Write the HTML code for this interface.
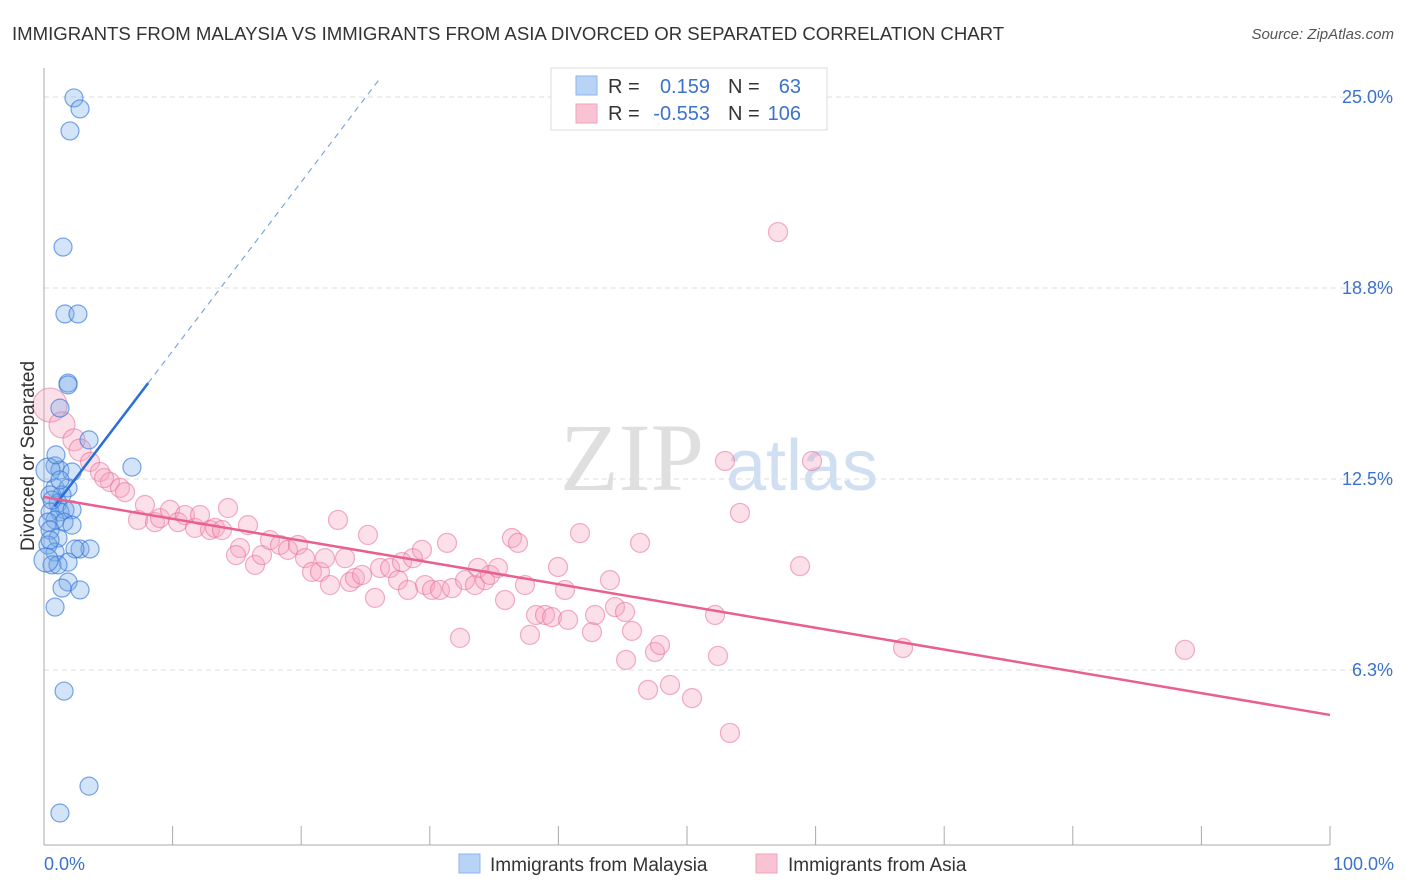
<!DOCTYPE html>
<html><head><meta charset="utf-8"><style>
body{margin:0;background:#fff;font-family:"Liberation Sans",sans-serif}
svg{display:block}
</style></head><body>
<svg id="chart" width="1406" height="892" xmlns="http://www.w3.org/2000/svg">
<text x="12" y="40" font-size="18.6" fill="#333">IMMIGRANTS FROM MALAYSIA VS IMMIGRANTS FROM ASIA DIVORCED OR SEPARATED CORRELATION CHART</text>
<text x="1394" y="39" font-size="15" fill="#555" font-style="italic" text-anchor="end">Source: ZipAtlas.com</text>
<g>
<text x="632" y="490" font-size="96" fill="#d8d8d8" font-family="Liberation Serif,serif" text-anchor="middle" opacity="0.8">ZIP</text>
<text x="802" y="490" font-size="72" fill="#c5d8ef" text-anchor="middle" opacity="0.8">atlas</text>
</g>
<g id="grid"></g>
<g id="axes"></g>
<g id="pts"></g>
<g id="lines"></g>
<text x="34" y="456" font-size="19" fill="#333" text-anchor="middle" transform="rotate(-90 34 456)">Divorced or Separated</text>
<g>
<rect x="551" y="68" width="276" height="62" fill="#fff" stroke="#ddd"/>
<rect x="576" y="76" width="21" height="19" fill="#b7d3f5" stroke="#8fb6e8"/>
<text x="608" y="93" font-size="20" fill="#333">R =</text>
<text x="710" y="93" font-size="20" fill="#3b72cc" text-anchor="end">0.159</text>
<text x="728" y="93" font-size="20" fill="#333">N =</text>
<text x="801" y="93" font-size="20" fill="#3b72cc" text-anchor="end">63</text>
<rect x="576" y="104" width="21" height="19" fill="#f9c3d3" stroke="#efa3bb"/>
<text x="608" y="120" font-size="20" fill="#333">R =</text>
<text x="710" y="120" font-size="20" fill="#3b72cc" text-anchor="end">-0.553</text>
<text x="728" y="120" font-size="20" fill="#333">N =</text>
<text x="801" y="120" font-size="20" fill="#3b72cc" text-anchor="end">106</text>
</g>
<g>
<rect x="459" y="854" width="21" height="19" fill="#b7d3f5" stroke="#8fb6e8"/>
<text x="490" y="871" font-size="19" fill="#333">Immigrants from Malaysia</text>
<rect x="756" y="854" width="21" height="19" fill="#f9c3d3" stroke="#efa3bb"/>
<text x="788" y="871" font-size="19" fill="#333">Immigrants from Asia</text>
</g>
</svg>
<script>
const yTicks=[6.25,12.5,18.75,25];
const yTickLabels=["6.3%","12.5%","18.8%","25.0%"];
const xTicks=[0,10,20,30,40,50,60,70,80,90,100];
const blueX=[2.33,2.8,2.02,1.48,1.63,2.64,1.87,1.87,1.24,3.5,6.84,0.86,1.24,2.18,0.31,0.86,1.87,1.4,0.47,1.09,1.63,0.47,1.24,2.18,0.86,1.56,0.31,2.18,0.47,1.09,0.31,0.86,2.8,3.58,2.41,1.87,0.62,1.09,1.87,1.4,2.8,0.86,1.56,3.5,1.24,0.47,0.16,0.62,1.24,0.93];
const blueY=[24.97,24.61,23.89,20.09,17.9,17.9,15.64,15.58,14.82,13.78,12.89,12.93,12.79,12.73,12.79,12.21,12.21,11.98,11.98,11.71,11.49,11.42,11.42,11.49,11.16,11.09,11.09,10.99,10.83,10.57,10.34,10.11,10.21,10.21,10.21,9.78,9.69,9.69,9.13,8.93,8.87,8.31,5.56,2.45,1.57,10.5,9.85,11.81,12.47,13.29];
const pinkX=[0.47,1.4,2.33,2.8,3.58,4.35,5.13,5.91,4.67,6.3,7.31,7.85,8.63,9.02,9.8,10.42,10.96,11.74,12.13,12.91,13.3,13.84,14.31,15.24,14.93,15.86,16.41,16.95,17.57,18.35,18.97,19.75,20.3,20.84,21.46,22.24,21.85,22.86,23.41,23.79,24.18,24.73,25.19,25.74,26.13,26.91,27.53,27.84,28.3,28.69,29.39,29.63,30.17,30.79,31.34,31.73,32.35,32.74,33.51,33.75,34.29,34.68,35.3,35.85,36.39,36.86,37.4,37.79,38.26,38.96,39.5,39.97,40.51,40.75,41.68,42.61,42.85,44.01,44.4,45.18,45.26,45.72,46.35,46.97,47.51,47.9,48.68,50.39,52.18,52.41,52.95,53.34,54.12,57.08,58.79,59.72,66.8,88.72];
const pinkY=[14.92,14.27,13.78,13.45,13.06,12.73,12.4,12.21,12.53,12.07,11.16,11.65,11.09,11.22,11.49,11.09,11.32,10.9,11.32,10.83,10.9,10.83,11.55,10.24,10.01,10.99,9.69,10.01,10.5,10.34,10.18,10.34,9.91,9.46,9.46,9.03,9.91,11.16,9.91,9.13,9.26,9.36,10.67,8.61,9.59,9.59,9.19,9.78,8.87,9.91,10.18,9.03,8.87,8.87,10.41,8.93,7.3,9.19,9.03,9.59,9.19,9.36,9.59,8.54,10.57,10.41,9.03,7.4,8.05,8.05,7.98,9.62,8.87,7.89,10.73,7.49,8.05,9.19,8.31,8.15,6.58,7.53,10.41,5.6,6.84,7.07,5.76,5.33,8.05,6.71,13.09,4.19,11.39,20.58,9.65,13.09,6.97,6.91];
const blueTrend=[11.16,0.553];
const pinkTrend=[11.91,4.78];
const X0=44,X1=1330,Y0=861,PX_PER=30.56;
const sx=v=>X0+v*(X1-X0)/100;
const sy=v=>Y0-v*PX_PER;
const NS="http://www.w3.org/2000/svg";
function mk(tag,attrs,parent){const e=document.createElementNS(NS,tag);for(const k in attrs)e.setAttribute(k,attrs[k]);parent.appendChild(e);return e;}
const grid=document.getElementById('grid'),axes=document.getElementById('axes'),pts=document.getElementById('pts'),lines=document.getElementById('lines'),svg=document.getElementById('chart');
yTicks.forEach((t,i)=>{
 const l=mk('line',{x1:44,x2:1394,y1:sy(t),y2:sy(t),stroke:'#ddd','stroke-dasharray':'5,4'},grid);
 
 
 const tx=mk('text',{x:1393,y:sy(t)+6,'font-size':18,fill:'#3b72cc','text-anchor':'end'},svg);
 tx.textContent=yTickLabels[i];
 
 
});
mk('line',{x1:44,x2:44,y1:68,y2:845,stroke:'#aaa'},axes);
mk('line',{x1:44,x2:1330,y1:845,y2:845,stroke:'#aaa'},axes);
xTicks.forEach(t=>{const l=mk('line',{x1:sx(t),x2:sx(t),y1:826,y2:845,stroke:'#aaa'},axes);
 
 });
const xl0=mk('text',{x:44,y:870,'font-size':18,fill:'#3b72cc'},svg);xl0.textContent='0.0%';


const xl1=mk('text',{x:1394,y:870,'font-size':18,fill:'#3b72cc','text-anchor':'end'},svg);xl1.textContent='100.0%';


pinkX.forEach((x,i)=>{const r=i===0?17:(i===1?13:(i<4?11:9.5));
 const c=mk('circle',{cx:sx(x),cy:sy(pinkY[i]),r:r,fill:'rgba(246,160,188,0.33)',stroke:'rgba(232,110,150,0.55)','stroke-width':1.2},pts);
 
 });
blueX.forEach((x,i)=>{const r=(i===14||i===46)?12:9;
 const c=mk('circle',{cx:sx(x),cy:sy(blueY[i]),r:r,fill:'rgba(120,170,235,0.33)',stroke:'rgba(50,120,215,0.65)','stroke-width':1.2},pts);
 
 });
const bf=x=>blueTrend[0]+blueTrend[1]*x;
const bl=mk('line',{x1:sx(0.8),y1:sy(bf(0.8)),x2:sx(8.1),y2:sy(bf(8.1)),stroke:'#2a6fd6','stroke-width':2.5},lines);


const bd=mk('line',{x1:sx(8.1),y1:sy(bf(8.1)),x2:sx(26.1),y2:sy(bf(26.1)),stroke:'#7aa6e0','stroke-width':1.2,'stroke-dasharray':'6,5'},lines);


const pl=mk('line',{x1:sx(0),y1:sy(pinkTrend[0]),x2:sx(100),y2:sy(pinkTrend[1]),stroke:'#e8608e','stroke-width':2.5},lines);


</script>
</body></html>
